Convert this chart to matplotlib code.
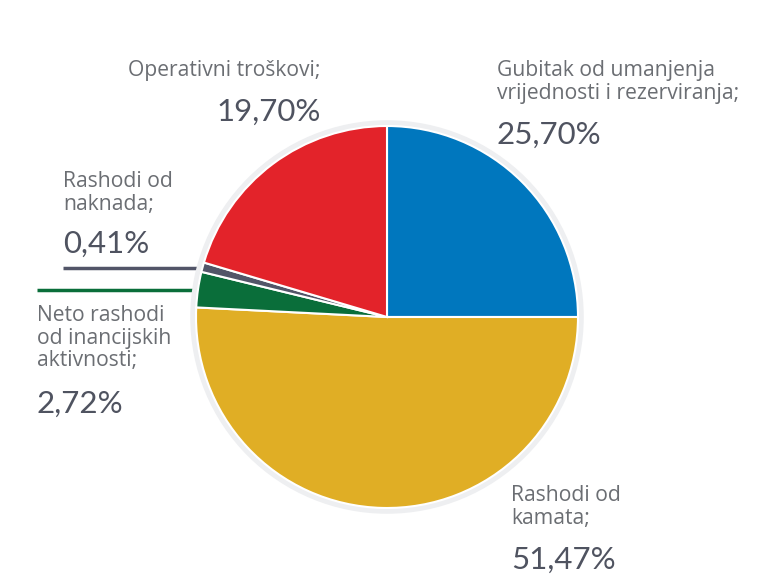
import matplotlib.pyplot as plt
from matplotlib.patches import Circle

# struktura rashoda
kategorije = ["Gubitak od umanjenja\nvrijednosti i rezerviranja;",
              "Rashodi od\nkamata;",
              "Neto rashodi\nod inancijskih\naktivnosti;",
              "Rashodi od\nnaknada;",
              "Operativni troškovi;"]
# velicine isjecaka ocitane sa slike (u %)
udjeli = [25.0, 50.8, 3.0, 0.8, 20.4]
postoci = ["25,70%", "51,47%", "2,72%", "0,41%", "19,70%"]
boje = ["#0077be", "#e0ae25", "#0a6e3a", "#525568", "#e3232a"]

W, H = 779, 577
plt.rcParams['font.family'] = ['Open Sans', 'DejaVu Sans']

fig = plt.figure(figsize=(W / 100, H / 100), dpi=100)
ax = fig.add_axes([0, 0, 1, 1])
ax.set_xlim(0, W)
ax.set_ylim(H, 0)
ax.axis('off')

# pita u vlastitim osima (y prema gore)
pax = fig.add_axes([0, 0, 1, 1])
centar = (387, H - 317)
pax.add_patch(Circle(centar, 194, facecolor='none', edgecolor='#eeeff1',
                     lw=4))
pax.pie(udjeli, colors=boje, startangle=90, counterclock=False,
        center=centar, radius=191, frame=True,
        wedgeprops=dict(edgecolor='white', linewidth=1.5))
pax.set_xlim(0, W)
pax.set_ylim(0, H)
pax.axis('off')

c_lab = "#6b6e73"
c_pct = "#4f5360"
fl, fp = 15.2, 22.5

# (x, y label top, y postotak, poravnanje)
pozicije = {
    0: (497, 60, 135, 'left'),
    1: (511, 485, 560, 'left'),
    2: (37, 305, 404, 'left'),
    3: (63, 171, 244, 'left'),
    4: (321, 60, 112, 'right'),
}
for i, (x, yl, yp, ha) in pozicije.items():
    ax.text(x, yl, kategorije[i], ha=ha, va='top', fontsize=fl, color=c_lab,
            linespacing=1.1)
    ax.text(x, yp, postoci[i], ha=ha, va='center', fontsize=fp, color=c_pct,
            family=['Lato', 'DejaVu Sans'])

# linije do malih isjecaka
ax.plot([63, 204], [268, 268], color=boje[3], lw=2.5, solid_capstyle='butt')
ax.plot([37, 197], [290, 290], color=boje[2], lw=2.5, solid_capstyle='butt')

fig.savefig("out.png", dpi=100, facecolor='white')
